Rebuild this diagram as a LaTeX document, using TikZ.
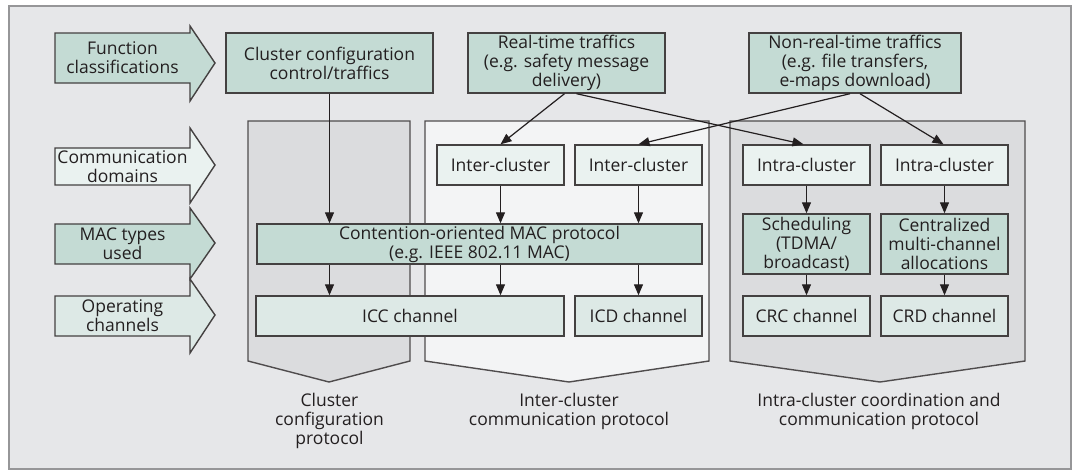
\documentclass[tikz,border=0pt]{standalone}
\usepackage{fontspec}
\setmainfont{Open Sans}
\usepackage{tikz}
\usetikzlibrary{arrows.meta,positioning,calc}
\definecolor{bgcol}{RGB}{230,231,233}
\definecolor{framecol}{RGB}{150,150,152}
\definecolor{linecol}{RGB}{35,31,32}
\definecolor{greenfill}{RGB}{196,219,212}
\definecolor{chanfill}{RGB}{221,233,230}
\definecolor{domfill}{RGB}{234,242,240}
\definecolor{protogray}{RGB}{219,220,222}
\definecolor{protolight}{RGB}{243,244,245}

\begin{document}
\begin{tikzpicture}[x=1pt, y=-1pt, every node/.style={font=\fontsize{17.5}{19}\selectfont, text=linecol},
    box/.style={draw=linecol!85, line width=1.4pt, minimum height=40pt, inner sep=1pt, align=center},
    tag/.style={draw=linecol!85, line width=1.4pt},
    proto/.style={draw=linecol!80, line width=1.4pt},
    link/.style={draw=linecol, line width=1.2pt, -{Triangle[length=11pt,width=9pt]}}]
    \useasboundingbox (0,0) rectangle (1077,472);
    \draw[fill=bgcol, draw=framecol, line width=1.2pt] (9,6) rectangle (1071,469);

    % protocol groups
    \draw[proto, fill=protogray] (248,121) -- (410,121) -- (410,361) -- (329,382) -- (248,361) -- cycle;
    \draw[proto, fill=protolight] (425,121) -- (709,121) -- (709,361) -- (569,382) -- (425,361) -- cycle;
    \draw[proto, fill=protogray] (730,121) -- (1025,121) -- (1025,361) -- (880,382) -- (730,361) -- cycle;
    \node[align=center] (pcfg) at (329.5,421) {Cluster\\configuration\\protocol};
    \node[align=center] (pinter) at (569,411.5) {Inter-cluster\\communication protocol};
    \node[align=center] (pintra) at (879,411.5) {Intra-cluster coordination and\\communication protocol};

    % left side tags
    \draw[tag, fill=greenfill] (55,33) -- (190,33) -- (190,26) -- (215,63) -- (190,101) -- (190,83) -- (55,83) -- cycle;
    \draw[tag, fill=domfill] (55,148) -- (190,148) -- (190,128) -- (215,165) -- (190,203) -- (190,185) -- (55,185) -- cycle;
    \draw[tag, fill=greenfill] (55,224) -- (190,224) -- (190,208) -- (215,243) -- (190,279) -- (190,264) -- (55,264) -- cycle;
    \draw[tag, fill=chanfill] (55,296) -- (190,296) -- (190,279) -- (215,315) -- (190,353) -- (190,336) -- (55,336) -- cycle;
    \node[align=center] (fc) at (122.5,58) {Function\\classifications};
    \node[align=center] (cd) at (122.5,166.5) {Communication\\domains};
    \node[align=center] (mt) at (122.5,244) {MAC types\\used};
    \node[align=center] (oc) at (122.5,316) {Operating\\channels};

    % function classifications
    \node[box, fill=greenfill, minimum width=207pt, minimum height=60pt] (cfg) at (329.5,63) {Cluster configuration\\control/traffics};
    \node[box, fill=greenfill, minimum width=197pt, minimum height=60pt] (rt) at (566.5,63) {Real-time traffics\\(e.g. safety message\\delivery)};
    \node[box, fill=greenfill, minimum width=212pt, minimum height=60pt] (nrt) at (855,63) {Non-real-time traffics\\(e.g. file transfers,\\e-maps download)};

    % communication domains
    \node[box, fill=domfill, minimum width=127pt] (inter1) at (500.5,165) {Inter-cluster};
    \node[box, fill=domfill, minimum width=127pt] (inter2) at (638.5,165) {Inter-cluster};
    \node[box, fill=domfill, minimum width=127pt] (intra1) at (806.5,165) {Intra-cluster};
    \node[box, fill=domfill, minimum width=127pt] (intra2) at (944.5,165) {Intra-cluster};

    % MAC types
    \node[box, fill=greenfill, minimum width=445pt] (mac) at (479.5,244) {Contention-oriented MAC protocol\\(e.g. IEEE 802.11 MAC)};
    \node[box, fill=greenfill, minimum width=127pt, minimum height=60pt] (sched) at (806.5,244) {Scheduling\\(TDMA/\\broadcast)};
    \node[box, fill=greenfill, minimum width=127pt, minimum height=60pt] (cent) at (944.5,244) {Centralized\\multi-channel\\allocations};

    % channels
    \node[box, fill=chanfill, minimum width=308pt] (icc) at (410,316) {ICC channel};
    \node[box, fill=chanfill, minimum width=127pt] (icd) at (638.5,316) {ICD channel};
    \node[box, fill=chanfill, minimum width=127pt] (crc) at (806.5,316) {CRC channel};
    \node[box, fill=chanfill, minimum width=127pt] (crd) at (944.5,316) {CRD channel};

    % connectors
    \draw[link] (cfg) -- (cfg |- mac.north);
    \draw[link] (mac.south -| cfg) -- (icc.north -| cfg);
    \draw[link] ([xshift=-2pt]rt.south) -- (inter1.north);
    \draw[link] ([xshift=10pt]rt.south) -- ([xshift=-3pt]intra1.north);
    \draw[link] ([xshift=-5pt]nrt.south) -- (inter2.north);
    \draw[link] ([xshift=5pt]nrt.south) -- ([xshift=-1pt]intra2.north);
    \draw[link] (inter1) -- (inter1 |- mac.north);
    \draw[link] (inter2) -- (inter2 |- mac.north);
    \draw[link] (mac.south -| inter1) -- (icc.north -| inter1);
    \draw[link] (mac.south -| icd) -- (icd);
    \draw[link] (intra1) -- (sched);
    \draw[link] (sched) -- (crc);
    \draw[link] (intra2) -- (cent);
    \draw[link] (cent) -- (crd);
\end{tikzpicture}
\end{document}
